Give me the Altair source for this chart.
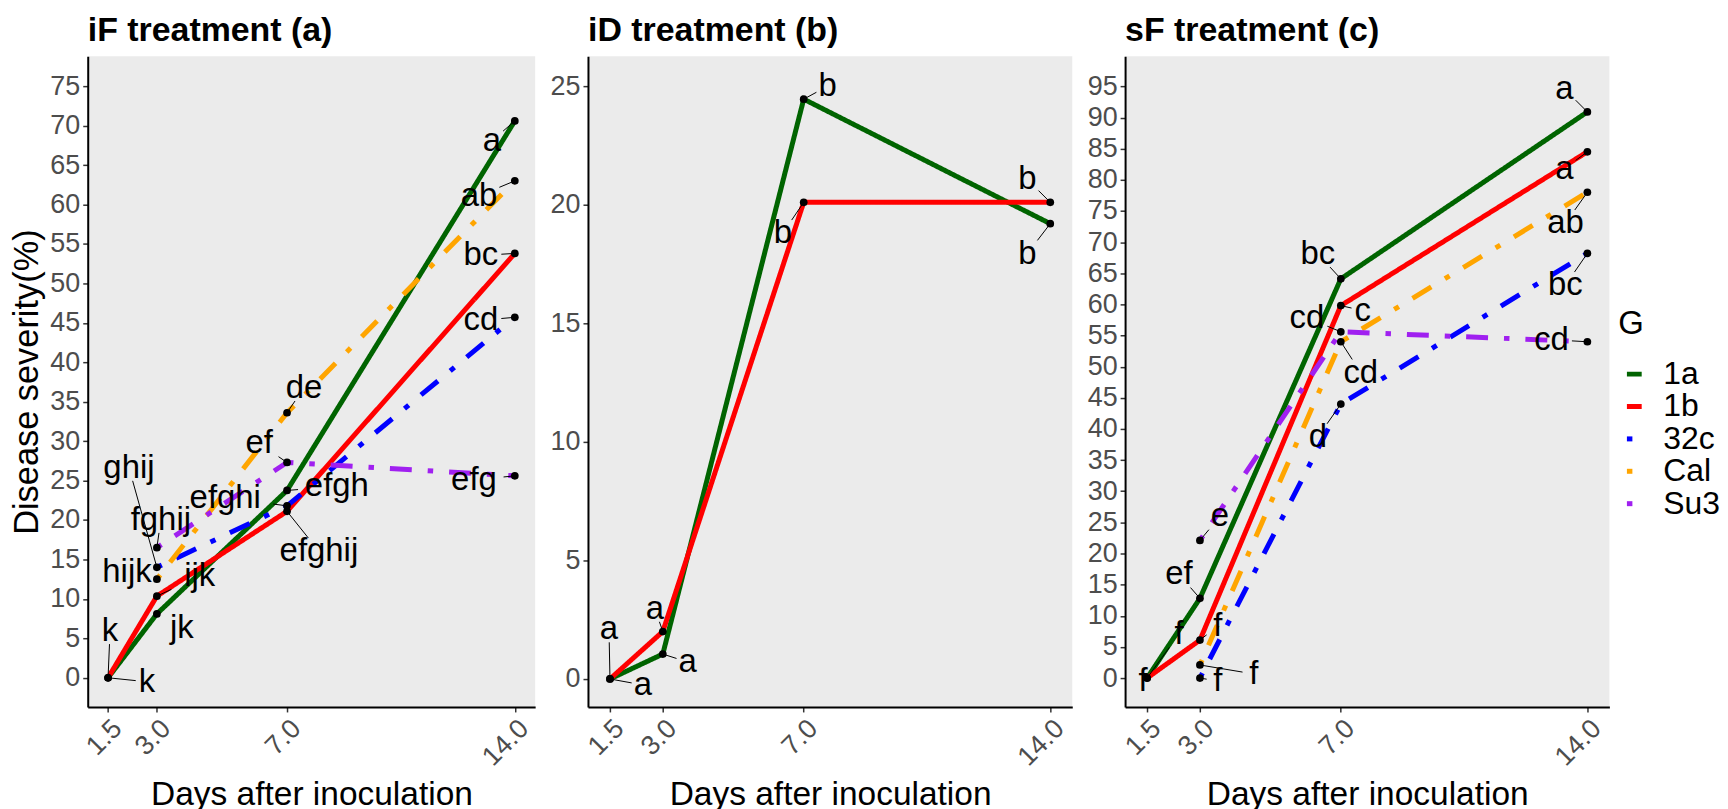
import altair as alt
import pandas as pd

FONT = "Liberation Sans"
SERIES = ["1a", "1b", "32c", "Cal", "Su3"]
COLORS = ["#006400", "#FF0000", "#0000FF", "#FFA500", "#A020F0"]
DASH_SOLID = [1, 0]
DASH_DOTDASH = [5.5, 16, 22, 16]
DASHES = [DASH_SOLID, DASH_SOLID, DASH_DOTDASH, DASH_DOTDASH, DASH_DOTDASH]

DAYS = [1.5, 3.0, 7.0, 14.0]

# ---- panel (a) iF treatment ----
A_1a = [0, 8.1, 23.75, 70.6]
A_1b = [0, 10.35, 21.1, 53.8]
A_32c = [None, 14.0, 21.8, 45.7]
A_Cal = [None, 12.5, 33.6, 63.0]
A_Su3 = [None, 16.5, 27.3, 25.6]
A_LAB_1a = ["k", "jk", "efgh", "a"]
A_LAB_1b = ["k", "ijk", "efghij", "bc"]
A_LAB_32c = [None, "ghij", "efghi", "cd"]
A_LAB_Cal = [None, "hijk", "de", "ab"]
A_LAB_Su3 = [None, "fghij", "ef", "efg"]

# ---- panel (b) iD treatment ----
B_1a = [0, 1.05, 24.45, 19.2]
B_1b = [0, 2.0, 20.1, 20.1]
B_LAB_1a = ["a", "a", "b", "b"]
B_LAB_1b = ["a", "a", "b", "b"]

# ---- panel (c) sF treatment ----
C_1a = [0, 12.8, 64.1, 90.9]
C_1b = [0, 6.1, 59.8, 84.5]
C_32c = [None, 0, 44.0, 68.2]
C_Cal = [None, 2.1, 54.0, 78.0]
C_Su3 = [None, 22.1, 55.6, 54.0]
C_LAB_1a = ["f", "ef", "bc", "a"]
C_LAB_1b = ["f", "f", "c", "a"]
C_LAB_32c = [None, "f", "d", "bc"]
C_LAB_Cal = [None, "f", "cd", "ab"]
C_LAB_Su3 = [None, "e", "cd", "cd"]

# label placement offsets (pixels, label centre relative to its point) - repel layout
A_OFF = {
    "1a": [(2, -47), (25, 14), (50, -4), (-23, 20)],
    "1b": [(39, 4), (43, -20), (32, 40), (-34, 2)],
    "32c": [None, (-28, -100), (-62, -8), (-34, 3)],
    "Cal": [None, (-30, -7), (17, -25), (-36, 15)],
    "Su3": [None, (4, -28), (-28, -19), (-41, 4)],
}
B_OFF = {
    "1a": [(-1, -50), (25, 8), (24, -13), (-23, 30)],
    "1b": [(33, 6), (-8, -23), (-21, 31), (-23, -23)],
}
C_OFF = {
    "1a": [(32, -44), (-21, -24), (-23, -25), (-23, -23)],
    "1b": [(-4, 3), (18, -14), (22, 5), (-23, 17)],
    "32c": [None, (18, 3), (-23, 33), (-22, 32)],
    "Cal": [None, (54, 9), (20, 31), (-22, 31)],
    "Su3": [None, (20, -24), (-34, -14), (-36, -2)],
}

XDOM = [0.875, 14.625]
PLOT_H = 653
LABEL_FS = 33


def build(vals, labs, offs, ydom, yticks, width, title, ytitle):
    pxd = width / (XDOM[1] - XDOM[0])
    pxv = PLOT_H / (ydom[1] - ydom[0])
    pts, txt, seg = [], [], []
    for s in vals:
        for i, d in enumerate(DAYS):
            v = vals[s][i]
            if v is None:
                continue
            pts.append({"series": s, "day": d, "value": v})
            lab = labs[s][i]
            ox, oy = offs[s][i]
            txt.append({"day": d + ox / pxd, "value": v - oy / pxv, "label": lab})
            hw = 0.28 * LABEL_FS * len(lab) + 2
            hh = 0.40 * LABEL_FS
            t = min(hw / abs(ox) if ox else 1e9, hh / abs(oy) if oy else 1e9)
            if t < 1:
                ex, ey = ox * (1 - t), oy * (1 - t)
                if (ex * ex + ey * ey) ** 0.5 > 6:
                    seg.append({"day": d, "value": v,
                                "day2": d + ex / pxd, "value2": v - ey / pxv})
    pts = pd.DataFrame(pts)
    txt = pd.DataFrame(txt)
    seg = pd.DataFrame(seg)

    xenc = alt.X("day:Q", scale=alt.Scale(domain=XDOM, nice=False, zero=False),
                 axis=alt.Axis(values=DAYS, format=".1f", title="Days after inoculation"))
    yaxis = alt.Axis(values=yticks, title=ytitle) if ytitle else alt.Axis(values=yticks, title=None)
    yenc = alt.Y("value:Q", scale=alt.Scale(domain=ydom, nice=False, zero=False), axis=yaxis)

    lines = alt.Chart(pts).mark_line(strokeWidth=5).encode(
        x=xenc, y=yenc,
        color=alt.Color("series:N", scale=alt.Scale(domain=SERIES, range=COLORS),
                        title="G"),
        strokeDash=alt.StrokeDash("series:N", scale=alt.Scale(domain=SERIES, range=DASHES),
                                  title="G"),
    )
    rules = alt.Chart(seg).mark_rule(color="black", strokeWidth=1).encode(
        x=xenc, y=yenc, x2="day2:Q", y2="value2:Q")
    dots = alt.Chart(pts).mark_circle(size=60, color="black", opacity=1).encode(x=xenc, y=yenc)
    texts = alt.Chart(txt).mark_text(font=FONT, fontSize=LABEL_FS, color="black",
                                     align="center", baseline="middle").encode(
        x=xenc, y=yenc, text="label:N")
    return alt.layer(lines, rules, dots, texts).properties(
        width=width, height=PLOT_H,
        title=alt.TitleParams(title, anchor="start", frame="group", fontSize=34,
                              fontWeight="bold", font=FONT, color="black", offset=8),
    )


pa = build({"1a": A_1a, "1b": A_1b, "32c": A_32c, "Cal": A_Cal, "Su3": A_Su3},
           {"1a": A_LAB_1a, "1b": A_LAB_1b, "32c": A_LAB_32c, "Cal": A_LAB_Cal, "Su3": A_LAB_Su3},
           A_OFF, [-3.7, 78.8], list(range(0, 80, 5)), 449, "iF treatment (a)",
           "Disease severity(%)")
pb = build({"1a": B_1a, "1b": B_1b}, {"1a": B_LAB_1a, "1b": B_LAB_1b},
           B_OFF, [-1.18, 26.26], list(range(0, 30, 5)), 486, "iD treatment (b)", None)
pc = build({"1a": C_1a, "1b": C_1b, "32c": C_32c, "Cal": C_Cal, "Su3": C_Su3},
           {"1a": C_LAB_1a, "1b": C_LAB_1b, "32c": C_LAB_32c, "Cal": C_LAB_Cal, "Su3": C_LAB_Su3},
           C_OFF, [-4.64, 99.84], list(range(0, 100, 5)), 486, "sF treatment (c)", None)

chart = alt.hconcat(pa, pb, pc, spacing=14).resolve_scale(
    x="independent", y="independent", color="shared", strokeDash="shared"
).properties(background="white",
             padding={"left": 1, "top": 5, "right": 0, "bottom": 0}
).configure_view(fill="#EBEBEB", stroke=None).configure_axis(
    grid=False, labelFont=FONT, titleFont=FONT, labelFontSize=27, labelColor="#4D4D4D",
    tickColor="#333333", tickSize=5, tickWidth=1.5, domainColor="black", domainWidth=2,
    labelPadding=3, titleFontSize=33.6, titleFontWeight="normal", titleColor="black",
).configure_axisX(
    labelAngle=-45, labelAlign="right", labelBaseline="top", titlePadding=7,
).configure_axisY(
    titlePadding=5, titleFontSize=34.5,
).configure_legend(
    orient="none", legendX=1536, legendY=253, titleFont=FONT, labelFont=FONT,
    titleFontSize=33, titleFontWeight="normal", titleColor="black", labelFontSize=32,
    labelColor="black", symbolType="stroke", symbolStrokeWidth=5, symbolSize=220,
    rowPadding=0.5, titlePadding=17, labelOffset=13, padding=0,
)

chart.save("out.html", embed_options={"renderer": "svg", "actions": False})
